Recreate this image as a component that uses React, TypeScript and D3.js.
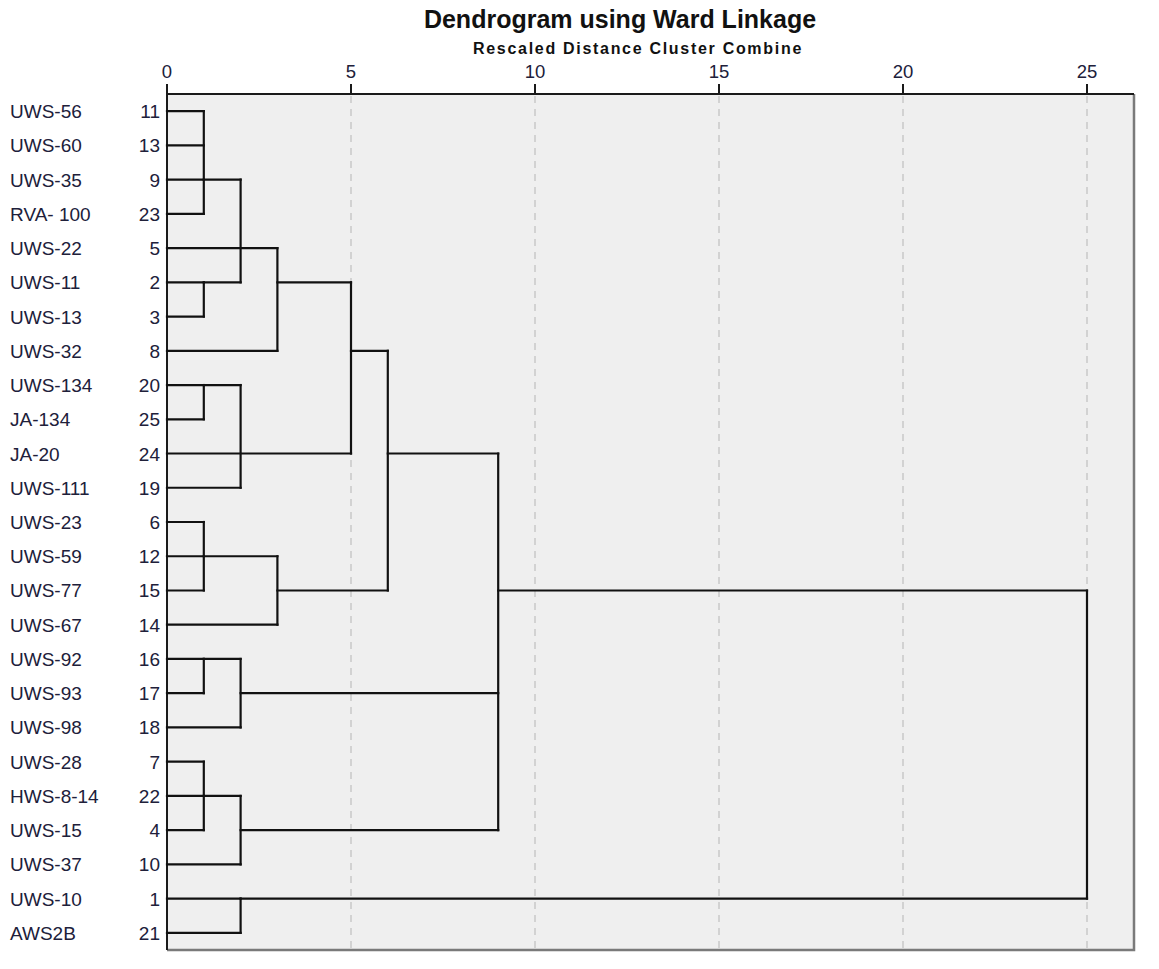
import React, { useRef, useEffect } from "react";
import * as d3 from "d3";

// leaf labels, top to bottom
const labels = [
  "UWS-56", "UWS-60", "UWS-35", "RVA- 100", "UWS-22", "UWS-11", "UWS-13", "UWS-32",
  "UWS-134", "JA-134", "JA-20", "UWS-111", "UWS-23", "UWS-59", "UWS-77", "UWS-67",
  "UWS-92", "UWS-93", "UWS-98", "UWS-28", "HWS-8-14", "UWS-15", "UWS-37", "UWS-10", "AWS2B",
];
const caseNumbers = [11, 13, 9, 23, 5, 2, 3, 8, 20, 25, 24, 19, 6, 12, 15, 14, 16, 17, 18, 7, 22, 4, 10, 1, 21];

const distanceTicks = [0, 5, 10, 15, 20, 25];

// each merge: rescaled distance, vertical span (row indices) and branches [row, start distance]
const merges: { h: number; top: number; bottom: number; branches: [number, number][] }[] = [
  { h: 1, top: 0, bottom: 3, branches: [[0, 0], [1, 0], [2, 0], [3, 0]] },
  { h: 1, top: 5, bottom: 6, branches: [[5, 0], [6, 0]] },
  { h: 2, top: 2, bottom: 5, branches: [[2, 1], [5, 1]] },
  { h: 3, top: 4, bottom: 7, branches: [[4, 0], [7, 0]] },
  { h: 1, top: 8, bottom: 9, branches: [[8, 0], [9, 0]] },
  { h: 2, top: 8, bottom: 11, branches: [[8, 1], [11, 0]] },
  { h: 5, top: 5, bottom: 10, branches: [[5, 3], [10, 0]] },
  { h: 1, top: 12, bottom: 14, branches: [[12, 0], [13, 0], [14, 0]] },
  { h: 3, top: 13, bottom: 15, branches: [[13, 1], [15, 0]] },
  { h: 6, top: 7, bottom: 14, branches: [[7, 5], [14, 3]] },
  { h: 1, top: 16, bottom: 17, branches: [[16, 0], [17, 0]] },
  { h: 2, top: 16, bottom: 18, branches: [[16, 1], [18, 0]] },
  { h: 1, top: 19, bottom: 21, branches: [[19, 0], [20, 0], [21, 0]] },
  { h: 2, top: 20, bottom: 22, branches: [[20, 1], [22, 0]] },
  { h: 9, top: 10, bottom: 21, branches: [[10, 6], [17, 2], [21, 2]] },
  { h: 2, top: 23, bottom: 24, branches: [[23, 0], [24, 0]] },
  { h: 25, top: 14, bottom: 23, branches: [[14, 9], [23, 2]] },
];

const Dendrogram = () => {
  const chartRef = useRef<SVGSVGElement>(null);

  useEffect(() => {
    const width = 1159;
    const height = 969;
    const left = 167;
    const right = 1134;
    const top = 94;
    const bottom = 950;
    const font = "'Liberation Sans', Arial, sans-serif";
    const textColor = "#20203a";

    const svg = d3.select(chartRef.current);
    svg.selectAll("*").remove();
    svg.attr("width", width).attr("height", height);

    const x = d3.scaleLinear().domain([0, 25]).range([left, 1087]);
    const y = d3.scaleBand<number>()
      .domain(d3.range(labels.length))
      .range([top, bottom]);
    const cy = (i: number) => (y(i) as number) + y.bandwidth() / 2;

    svg.append("rect")
      .attr("x", left).attr("y", top)
      .attr("width", right - left).attr("height", bottom - top)
      .attr("fill", "#efefef");

    // dashed grid
    svg.append("g")
      .selectAll("line")
      .data(distanceTicks.filter(d => d > 0))
      .join("line")
      .attr("x1", d => x(d)).attr("x2", d => x(d))
      .attr("y1", top + 2).attr("y2", bottom)
      .attr("stroke", "#c9c9c9")
      .attr("stroke-width", 1.5)
      .attr("stroke-dasharray", "7,6");

    // frame: right and bottom grey, top and left dark
    svg.append("path")
      .attr("d", `M${right},${top}V${bottom}H${left}`)
      .attr("fill", "none").attr("stroke", "#7a7a7a").attr("stroke-width", 2.5);
    svg.append("path")
      .attr("d", `M${left},${bottom}V${top}H${right}`)
      .attr("fill", "none").attr("stroke", "#1a1a1a").attr("stroke-width", 2);

    // top axis
    const axis = svg.append("g");
    axis.selectAll("line")
      .data(distanceTicks)
      .join("line")
      .attr("x1", d => x(d)).attr("x2", d => x(d))
      .attr("y1", top - 10).attr("y2", top)
      .attr("stroke", "#1a1a1a").attr("stroke-width", 2);
    axis.selectAll("text")
      .data(distanceTicks)
      .join("text")
      .attr("x", d => x(d))
      .attr("y", 78)
      .attr("text-anchor", "middle")
      .style("font-family", font)
      .style("font-size", "18.5px")
      .attr("fill", textColor)
      .text(d => d);

    // dendrogram segments
    const links = svg.append("g")
      .attr("fill", "none")
      .attr("stroke", "#111")
      .attr("stroke-width", 2.2)
      .attr("stroke-linecap", "square");
    merges.forEach(m => {
      links.append("line")
        .attr("x1", x(m.h)).attr("x2", x(m.h))
        .attr("y1", cy(m.top)).attr("y2", cy(m.bottom));
      m.branches.forEach(([row, from]) => {
        links.append("line")
          .attr("x1", x(from)).attr("x2", x(m.h))
          .attr("y1", cy(row)).attr("y2", cy(row));
      });
    });

    // row labels
    svg.append("g")
      .selectAll("text")
      .data(labels)
      .join("text")
      .attr("x", 10)
      .attr("y", (d, i) => cy(i) + 7)
      .style("font-family", font)
      .style("font-size", "19px")
      .attr("fill", textColor)
      .text(d => d);
    svg.append("g")
      .selectAll("text")
      .data(caseNumbers)
      .join("text")
      .attr("x", 160)
      .attr("y", (d, i) => cy(i) + 7)
      .attr("text-anchor", "end")
      .style("font-family", font)
      .style("font-size", "19px")
      .attr("fill", textColor)
      .text(d => d);

    svg.append("text")
      .attr("x", 620).attr("y", 28)
      .attr("text-anchor", "middle")
      .style("font-family", font)
      .style("font-size", "25px")
      .style("font-weight", "bold")
      .attr("fill", "#111")
      .text("Dendrogram using Ward Linkage");
    svg.append("text")
      .attr("x", 638).attr("y", 54)
      .attr("text-anchor", "middle")
      .style("font-family", font)
      .style("font-size", "16px")
      .style("font-weight", "bold")
      .style("letter-spacing", "1.7px")
      .attr("fill", "#111")
      .text("Rescaled Distance Cluster Combine");
  }, []);

  return (
    <div style={{ position: "absolute", left: 0, top: 0, width: 1159, height: 969, background: "white" }}>
      <svg ref={chartRef} style={{ display: "block" }}></svg>
    </div>
  );
};

export default function App() {
  return <Dendrogram />;
}
